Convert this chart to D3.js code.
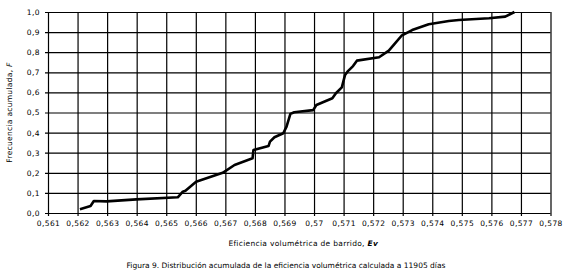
<!DOCTYPE html>
<html>
<head>
<meta charset="utf-8">
<script src="https://cdn.jsdelivr.net/npm/d3@7"></script>
<style>
body{margin:0;background:#fff;}
text{font-family:"DejaVu Sans",sans-serif;fill:#000;}
</style>
</head>
<body>
<div id="canva"></div>
<script>
// eficiencia volumetrica (x) vs frecuencia acumulada (y)
var efic = [0.56208,0.56244,0.56255,0.56298,0.56399,0.56539,0.56556,0.56565,0.56601,0.56691,0.56731,0.56792,0.56795,0.56846,0.56851,0.56866,0.56896,0.56907,0.5692,0.56933,0.56997,0.57008,0.57062,0.57074,0.57094,0.57105,0.57113,0.57132,0.57145,0.5722,0.57253,0.57274,0.57296,0.57332,0.57388,0.57456,0.5749,0.57592,0.57647,0.57678];
var frec = [0.019,0.035,0.06,0.058,0.068,0.078,0.106,0.111,0.156,0.2,0.239,0.272,0.313,0.333,0.355,0.377,0.397,0.43,0.493,0.501,0.512,0.537,0.571,0.596,0.625,0.687,0.703,0.731,0.758,0.775,0.808,0.844,0.882,0.91,0.939,0.955,0.96,0.969,0.977,1.0];

var xTicks = [0.561,0.562,0.563,0.564,0.565,0.566,0.567,0.568,0.569,0.570,0.571,0.572,0.573,0.574,0.575,0.576,0.577,0.578];
var xLabels = ["0,561","0,562","0,563","0,564","0,565","0,566","0,567","0,568","0,569","0,57","0,571","0,572","0,573","0,574","0,575","0,576","0,577","0,578"];
var yTicks = [0,0.1,0.2,0.3,0.4,0.5,0.6,0.7,0.8,0.9,1.0];
var yLabels = ["0,0","0,1","0,2","0,3","0,4","0,5","0,6","0,7","0,8","0,9","1,0"];

var width = 571, height = 279;
var margin = {top: 12, left: 48, right: 20, bottom: 66};

var svg = d3.select("#canva")
	.append("svg")
	.attr("width", width)
	.attr("height", height);

var x = d3.scaleLinear()
	.domain([0.561, 0.578])
	.range([margin.left, width - margin.right - 0.5]);

var y = d3.scaleLinear()
	.domain([0, 1])
	.range([height - margin.bottom, margin.top]);

// grid via axes (long ticks)
var gx = svg.append("g")
	.attr("transform", "translate(0," + y(0) + ")")
	.call(d3.axisBottom(x)
		.tickValues(xTicks)
		.tickSize(-(y(0) - y(1)))
		.tickSizeOuter(0)
		.tickPadding(8)
		.tickFormat((d, i) => xLabels[i]));
gx.select(".domain").remove();
gx.selectAll(".tick line")
	.attr("y2", 3)
	.attr("y1", -(y(0) - y(1)))
	.attr("stroke", "#000")
	.attr("stroke-width", 1.2);
gx.selectAll(".tick text")
	.attr("font-family", "DejaVu Sans")
	.attr("font-size", "7.5px")
	.attr("letter-spacing", "0.4px")
	.attr("fill", "#000");

var gy = svg.append("g")
	.attr("transform", "translate(" + x(0.561) + ",0)")
	.call(d3.axisLeft(y)
		.tickValues(yTicks)
		.tickSize(-(x(0.578) - x(0.561)))
		.tickSizeOuter(0)
		.tickPadding(8)
		.tickFormat((d, i) => yLabels[i]));
gy.select(".domain").remove();
gy.selectAll(".tick line")
	.attr("x1", -3)
	.attr("x2", x(0.578) - x(0.561))
	.attr("stroke", "#000")
	.attr("stroke-width", 1.2);
gy.selectAll(".tick text")
	.attr("font-family", "DejaVu Sans")
	.attr("font-size", "7.5px")
	.attr("letter-spacing", "0.4px")
	.attr("fill", "#000");

// curve
var line = d3.line()
	.x(d => x(d[0]))
	.y(d => y(d[1]));

svg.append("path")
	.datum(efic.map((v, i) => [v, frec[i]]))
	.attr("d", line)
	.attr("fill", "none")
	.attr("stroke", "#000")
	.attr("stroke-width", 2.6)
	.attr("stroke-linejoin", "round");

// axis titles
var xt = svg.append("text")
	.attr("x", (x(0.561) + x(0.578)) / 2 + 4)
	.attr("y", 246)
	.attr("text-anchor", "middle")
	.attr("font-size", "7.5px")
	.attr("letter-spacing", "0.3px")
	.text("Eficiencia volumétrica de barrido, ");
xt.append("tspan").attr("font-style", "italic").attr("font-weight", "bold").text("Ev");

var yt = svg.append("text")
	.attr("transform", "translate(12," + ((y(0) + y(1)) / 2) + ") rotate(-90)")
	.attr("text-anchor", "middle")
	.attr("font-size", "7.5px")
	.attr("letter-spacing", "0.3px")
	.text("Frecuencia acumulada, ");
yt.append("tspan").attr("font-style", "italic").text("F");

svg.append("text")
	.attr("x", 286)
	.attr("y", 268)
	.attr("text-anchor", "middle")
	.attr("font-size", "7.5px")
	.text("Figura 9. Distribución acumulada de la eficiencia volumétrica calculada a 11905 días");
</script>
</body>
</html>
